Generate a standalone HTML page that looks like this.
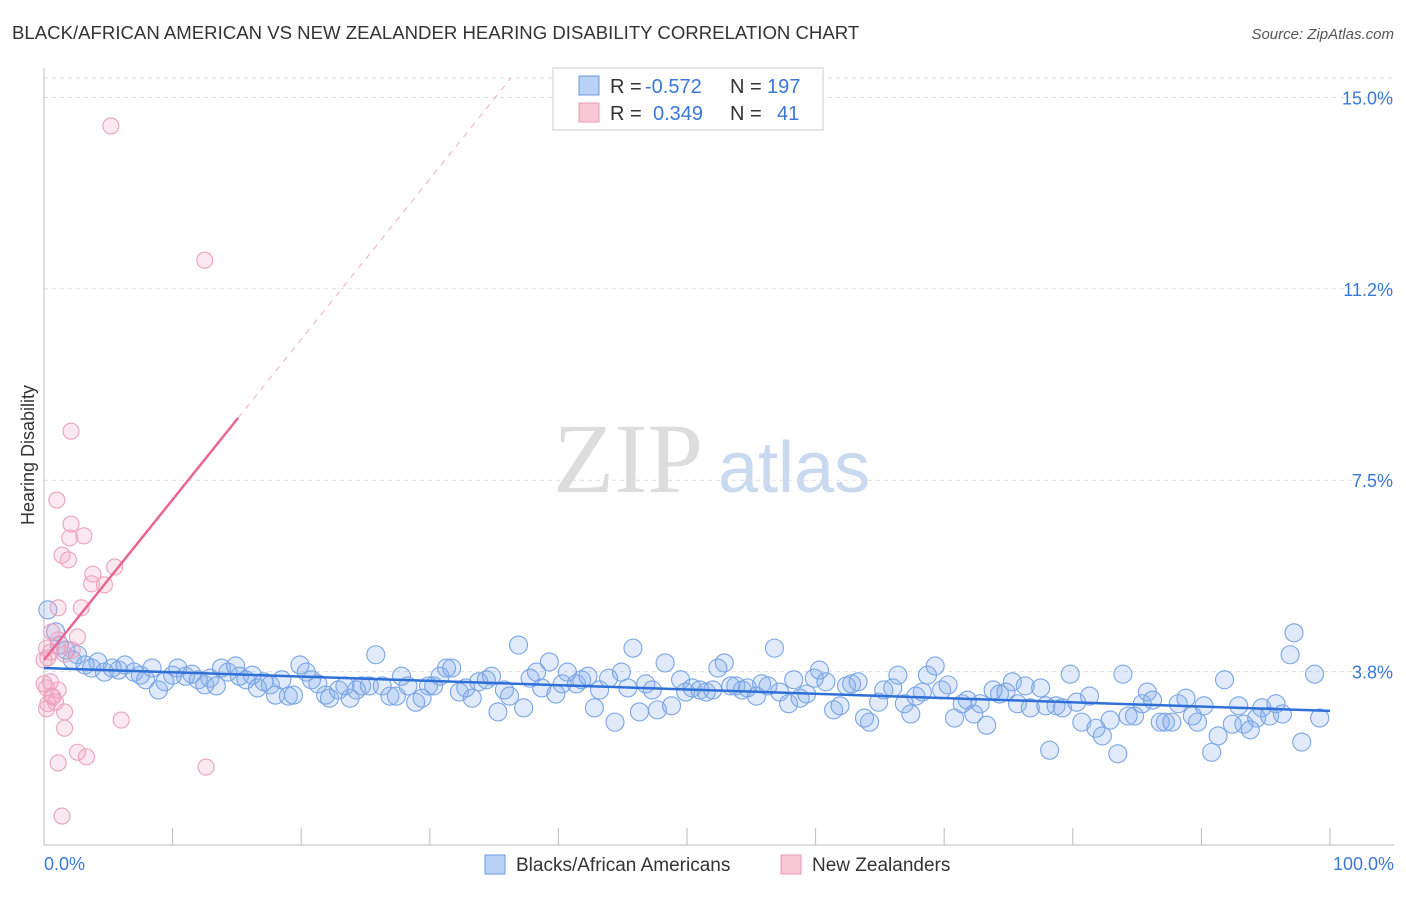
<!DOCTYPE html>
<html><head><meta charset="utf-8"><style>
body{margin:0;background:#fff;font-family:"Liberation Sans",sans-serif;}
svg text{font-family:"Liberation Sans",sans-serif;}
</style></head><body>
<svg id="chart" width="1406" height="892" xmlns="http://www.w3.org/2000/svg">
<text x="12" y="39" font-size="18.6" fill="#333">BLACK/AFRICAN AMERICAN VS NEW ZEALANDER HEARING DISABILITY CORRELATION CHART</text>
<text x="1394" y="39" font-size="15" fill="#555" text-anchor="end" font-style="italic">Source: ZipAtlas.com</text>
<text x="553" y="492" font-size="100" fill="#ddd" font-family="Liberation Serif" style="font-family:'Liberation Serif',serif">ZIP</text>
<text x="718" y="492" font-size="72" fill="#c9daf0">atlas</text>
<text transform="translate(34,455) rotate(-90)" font-size="18" fill="#333" text-anchor="middle">Hearing Disability</text>
<g id="grid"></g><g id="axes"></g><g id="marks"></g>
<g>
<rect x="553" y="68" width="270" height="62" fill="#fff" stroke="#ccc"/>
<rect x="579" y="76" width="20" height="19" fill="#b9d2f5" stroke="#6a9be0"/>
<text x="610" y="93" font-size="20" fill="#333">R =</text><text x="645" y="93" font-size="20" fill="#3a78d8">-0.572</text>
<text x="730" y="93" font-size="20" fill="#333">N =</text><text x="767" y="93" font-size="20" fill="#3a78d8">197</text>
<rect x="579" y="103" width="20" height="19" fill="#f9c8d6" stroke="#e89ab5"/>
<text x="610" y="120" font-size="20" fill="#333">R =</text><text x="653" y="120" font-size="20" fill="#3a78d8">0.349</text>
<text x="730" y="120" font-size="20" fill="#333">N =</text><text x="777" y="120" font-size="20" fill="#3a78d8">41</text>
</g>
<g><rect x="485" y="855" width="20" height="19" fill="#b9d2f5" stroke="#6a9be0"/><text x="516" y="871" font-size="19" fill="#333">Blacks/African Americans</text></g>
<g><rect x="781" y="855" width="20" height="19" fill="#f9c8d6" stroke="#e89ab5"/><text x="812" y="871" font-size="19" fill="#333">New Zealanders</text></g>
</svg>
<script>
const yTicks=[15,11.25,7.5,3.75];
const yTickLabels=["15.0%","11.2%","7.5%","3.8%"];
const xTicks=[0,10,20,30,40,50,60,70,80,90,100];
const blueX=[0.3,0.9,1.2,1.7,2.2,2.6,3.2,3.7,4.2,4.7,5.3,5.8,6.3,7.0,7.5,7.9,8.4,8.9,9.4,10.0,10.4,11.0,11.5,12.0,12.5,12.9,13.4,13.8,14.3,14.9,15.2,15.7,16.2,16.6,17.1,17.6,18.0,18.5,19.0,19.4,19.9,20.4,20.8,21.3,21.9,22.2,22.9,23.4,23.8,24.3,24.7,25.3,25.8,26.3,26.9,27.4,27.8,28.3,28.9,29.4,29.9,30.3,30.8,31.3,31.7,32.3,32.8,33.3,33.8,34.4,34.8,35.3,35.8,36.2,36.9,37.3,37.8,38.3,38.7,39.3,39.8,40.3,40.7,41.4,41.8,42.3,42.8,43.2,43.9,44.4,44.9,45.4,45.8,46.3,46.8,47.3,47.7,48.3,48.8,49.5,49.9,50.4,51.0,51.5,52.0,52.4,52.9,53.4,53.8,54.3,54.7,55.4,55.8,56.3,56.8,57.2,57.9,58.3,58.8,59.3,59.9,60.3,60.8,61.4,61.9,62.4,62.8,63.3,63.8,64.2,64.9,65.3,66.0,66.4,66.9,67.4,67.8,68.3,68.7,69.3,69.8,70.3,70.8,71.4,71.8,72.3,72.8,73.3,73.8,74.3,74.8,75.3,75.7,76.3,76.7,77.5,77.9,78.2,78.7,79.2,79.8,80.3,80.7,81.3,81.8,82.3,82.9,83.5,83.9,84.3,84.8,85.4,85.8,86.2,86.8,87.2,87.7,88.2,88.8,89.3,89.7,90.2,90.8,91.3,91.8,92.4,92.9,93.3,93.8,94.3,94.7,95.3,95.8,96.3,96.9,97.2,97.8,98.8,99.2];
const blueY=[4.96,4.53,4.27,4.17,3.98,4.08,3.88,3.82,3.94,3.74,3.82,3.78,3.88,3.74,3.68,3.59,3.82,3.39,3.55,3.68,3.82,3.66,3.70,3.59,3.49,3.62,3.47,3.82,3.74,3.86,3.66,3.59,3.68,3.43,3.55,3.49,3.29,3.59,3.27,3.29,3.88,3.74,3.59,3.51,3.29,3.23,3.39,3.47,3.23,3.39,3.47,3.47,4.08,3.47,3.27,3.27,3.66,3.47,3.15,3.23,3.47,3.47,3.66,3.82,3.82,3.35,3.43,3.23,3.55,3.59,3.66,2.96,3.39,3.27,4.27,3.04,3.62,3.74,3.43,3.94,3.31,3.51,3.74,3.51,3.59,3.66,3.04,3.39,3.62,2.76,3.74,3.43,4.21,2.96,3.51,3.39,3.00,3.92,3.08,3.59,3.35,3.43,3.39,3.35,3.39,3.82,3.92,3.47,3.47,3.39,3.43,3.27,3.51,3.47,4.21,3.35,3.12,3.59,3.23,3.31,3.62,3.78,3.55,3.00,3.08,3.47,3.51,3.55,2.84,2.76,3.15,3.39,3.43,3.68,3.12,2.92,3.27,3.35,3.68,3.86,3.39,3.49,2.84,3.12,3.19,2.92,3.12,2.70,3.39,3.31,3.35,3.55,3.12,3.47,3.04,3.43,3.08,2.21,3.08,3.04,3.70,3.15,2.76,3.27,2.64,2.49,2.80,2.14,3.70,2.88,2.88,3.12,3.35,3.19,2.76,2.76,2.76,3.12,3.23,2.88,2.76,3.08,2.17,2.49,3.59,2.72,3.08,2.72,2.61,2.84,3.04,2.88,3.12,2.92,4.08,4.51,2.37,3.70,2.84];
const pinkX=[5.2,12.5,2.1,1.0,2.1,3.1,2.0,1.4,1.9,5.5,3.8,3.7,4.7,1.1,2.9,0.6,2.6,1.1,0.2,0.5,1.6,0.3,2.2,0.5,0.2,1.1,0.6,0.3,0.9,1.6,6.0,1.6,2.6,3.3,1.1,12.6,1.4,0.2,0,0.7,0];
const pinkY=[14.44,11.81,8.46,7.11,6.64,6.41,6.37,6.03,5.94,5.80,5.66,5.47,5.45,5.00,5.00,4.53,4.43,4.37,4.21,4.13,4.09,4.02,4.17,3.55,3.43,3.39,3.27,3.12,3.15,2.96,2.80,2.64,2.17,2.08,1.96,1.88,0.92,3.02,3.51,3.25,3.98];
const blueTrend=[3.82,2.98];
const pinkTrend=[3.98,0.314];
const pinkSolidEnd=15.1, pinkDashEnd=36.3;

const NS="http://www.w3.org/2000/svg";
const X=v=>44+v*12.86, Y=v=>863-v*51.04;
function mk(tag,attrs,parent){const e=document.createElementNS(NS,tag);for(const k in attrs)e.setAttribute(k,attrs[k]);parent.appendChild(e);return e;}
const grid=document.getElementById('grid'),axes=document.getElementById('axes'),marks=document.getElementById('marks');
yTicks.forEach((t,i)=>{
 const l=mk('line',{x1:44,x2:1394,y1:Y(t),y2:Y(t),stroke:'#ddd','stroke-dasharray':'4,4'},grid);
 
 
 const tx=mk('text',{x:1393,y:Y(t)+7,'font-size':18,fill:'#3a78d8','text-anchor':'end'},grid);
 tx.textContent=yTickLabels[i];
 
 
});
const topG=mk('line',{x1:44,x2:1394,y1:78,y2:78,stroke:'#ddd','stroke-dasharray':'4,4'},grid);
const ax=mk('line',{x1:44,x2:1394,y1:845,y2:845,stroke:'#bbb'},axes);


const ay=mk('line',{x1:44,x2:44,y1:68,y2:845,stroke:'#bbb'},axes);


xTicks.forEach(t=>{
 const l=mk('line',{x1:X(t),x2:X(t),y1:828,y2:845,stroke:'#bbb'},axes);
 
 
});
const xl0=mk('text',{x:44,y:870,'font-size':18,fill:'#3a78d8'},axes);xl0.textContent='0.0%';


const xl1=mk('text',{x:1394,y:870,'font-size':18,fill:'#3a78d8','text-anchor':'end'},axes);xl1.textContent='100.0%';


blueX.forEach((x,i)=>{
 const c=mk('circle',{cx:X(x),cy:Y(blueY[i]),r:9,fill:'rgba(130,172,235,0.25)',stroke:'#79a5e4','stroke-width':1.1},marks);
 
 
});
pinkX.forEach((x,i)=>{
 const c=mk('circle',{cx:X(x),cy:Y(pinkY[i]),r:8,fill:'rgba(245,165,195,0.25)',stroke:'#eba2bc','stroke-width':1.1},marks);
 
 
});
const bt=mk('line',{x1:X(0),y1:Y(blueTrend[0]),x2:X(100),y2:Y(blueTrend[1]),stroke:'#2f6fd6','stroke-width':2.5},marks);


const pt=mk('line',{x1:X(0),y1:Y(pinkTrend[0]),x2:X(pinkSolidEnd),y2:Y(pinkTrend[0]+pinkTrend[1]*pinkSolidEnd),stroke:'#e8668f','stroke-width':2.5},marks);


const pd=mk('line',{x1:X(pinkSolidEnd),y1:Y(pinkTrend[0]+pinkTrend[1]*pinkSolidEnd),x2:X(pinkDashEnd),y2:Y(pinkTrend[0]+pinkTrend[1]*pinkDashEnd),stroke:'#f0b0c4','stroke-width':1,'stroke-dasharray':'6,6'},marks);


</script>
</body></html>
